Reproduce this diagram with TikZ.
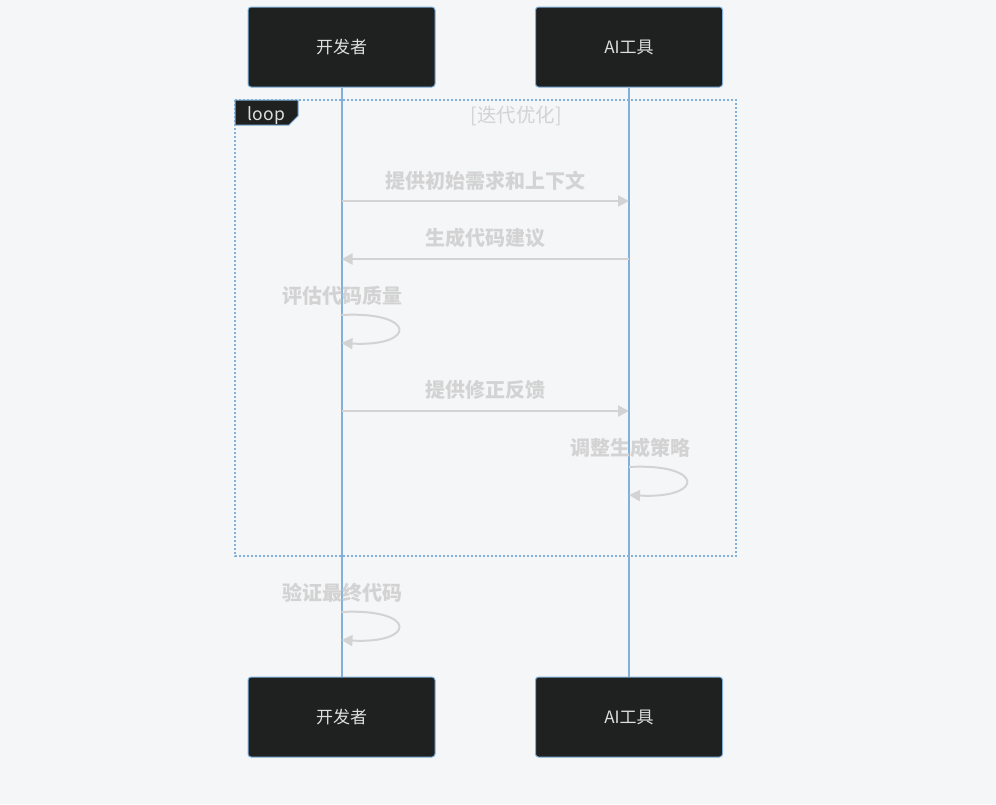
\documentclass[tikz,border=0pt]{standalone}
\usepackage{fontspec}
\setmainfont{Noto Sans CJK SC}
\usetikzlibrary{arrows.meta}
\definecolor{bgcol}{RGB}{245,246,248}
\definecolor{boxcol}{RGB}{31,32,32}
\definecolor{linecol}{RGB}{129,177,219}
\definecolor{msgcol}{RGB}{211,211,211}
\definecolor{actortxt}{RGB}{222,222,222}
\tikzset{
  actor/.style={draw=linecol, line width=1pt, fill=boxcol, rounded corners=3pt,
    minimum width=187pt, minimum height=80pt, text=actortxt, font=\fontsize{17}{20}\selectfont},
  lifeline/.style={draw=linecol, line width=2pt},
  msg/.style={draw=msgcol, line width=2pt, -{Triangle[length=11pt,width=11pt]}},
  msgtext/.style={text=msgcol, font=\bfseries\fontsize{20}{23}\selectfont},
  loopframe/.style={draw=linecol, line width=2pt, dash pattern=on 2pt off 2pt}
}
\begin{document}
\begin{tikzpicture}[x=1pt, y=-1pt]
\useasboundingbox[fill=bgcol] (0,0) rectangle (996,804);

% actors
\node[actor] (devtop) at (341.5,47) {开发者};
\node[actor] (aitop) at (629,47) {AI工具};
\node[actor] (devbot) at (341.5,717) {开发者};
\node[actor] (aibot) at (629,717) {AI工具};
\draw[lifeline] (devtop.south) -- (devbot.north);
\draw[lifeline] (aitop.south) -- (aibot.north);

% loop frame
\draw[loopframe] (235,100) rectangle (736,556);
\draw[draw=linecol, line width=1pt, fill=boxcol] (235,100) -- (298,100) -- (298,116) -- (289,125) -- (235,125) -- cycle;
\node[text=actortxt, font=\fontsize{17.5}{20}\selectfont] (looplbl) at (266.5,115.5) {loop};
\node[text=msgcol, font=\fontsize{19.5}{22}\selectfont] (loopcond) at (516,116) {[迭代优化]};

% messages
\coordinate (d1) at (341.5,201); \coordinate (a1) at (629,201);
\node[msgtext] (m1) at (485.5,181) {提供初始需求和上下文};
\draw[msg] (d1) -- (a1);

\coordinate (d2) at (341.5,259); \coordinate (a2) at (629,259);
\node[msgtext] (m2) at (485.5,238) {生成代码建议};
\draw[msg] (a2) -- (d2);

\coordinate (d3a) at (341.5,315); \coordinate (d3b) at (341.5,343);
\node[msgtext] (m3) at (342,296) {评估代码质量};
\draw[msg] (d3a) .. controls (417,311) and (417,347) .. (d3b);

\coordinate (d4) at (341.5,411); \coordinate (a4) at (629,411);
\node[msgtext] (m4) at (485.5,390) {提供修正反馈};
\draw[msg] (d4) -- (a4);

\coordinate (a5a) at (629,467); \coordinate (a5b) at (629,495);
\node[msgtext] (m5) at (630,448) {调整生成策略};
\draw[msg] (a5a) .. controls (705,463) and (705,499) .. (a5b);

\coordinate (d6a) at (341.5,612); \coordinate (d6b) at (341.5,640);
\node[msgtext] (m6) at (342,593) {验证最终代码};
\draw[msg] (d6a) .. controls (417,608) and (417,644) .. (d6b);
\end{tikzpicture}
\end{document}
